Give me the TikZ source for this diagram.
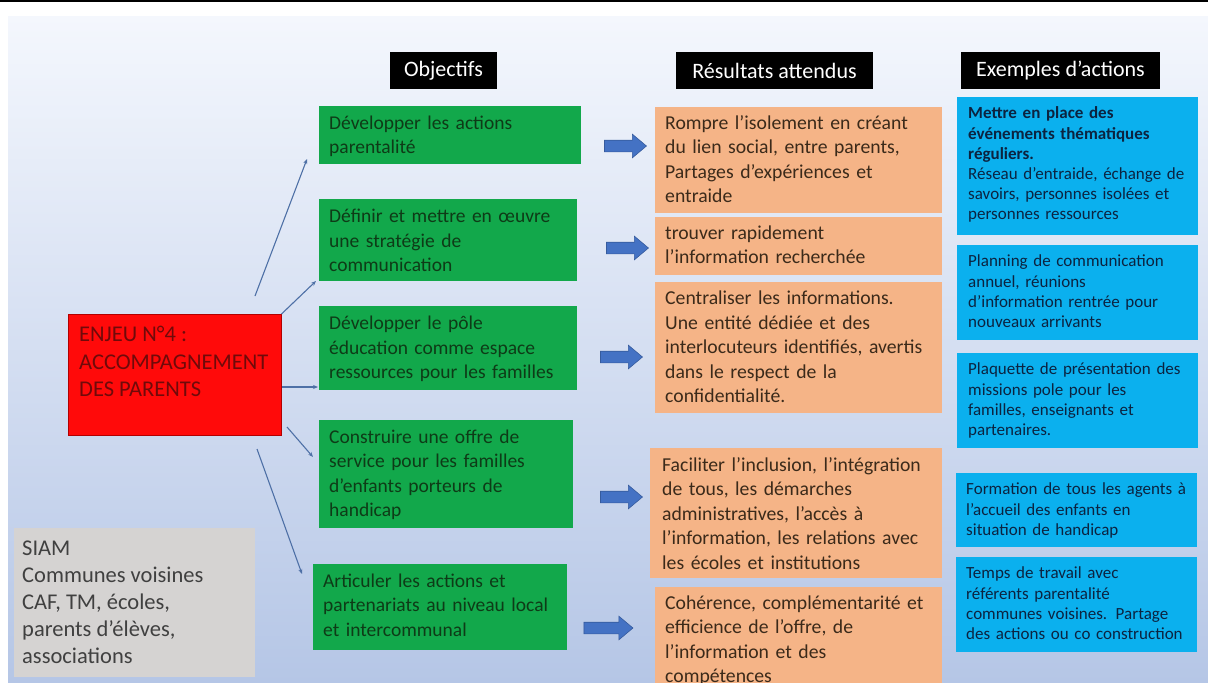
\documentclass[tikz,border=0pt]{standalone}
\usepackage{fontspec}
\setmainfont{Carlito}
\usetikzlibrary{shapes.arrows,arrows.meta,calc}
\definecolor{bgtop}{HTML}{F4F7FD}
\definecolor{bgbot}{HTML}{B5C6E6}
\definecolor{grn}{HTML}{12A84B}
\definecolor{grntxt}{HTML}{0E3B17}
\definecolor{org}{HTML}{F5B487}
\definecolor{orgtxt}{HTML}{3B2A1A}
\definecolor{blu}{HTML}{0BB0EE}
\definecolor{blutxt}{HTML}{0C2340}
\definecolor{redbox}{HTML}{FF0A0A}
\definecolor{redtxt}{HTML}{700A0A}
\definecolor{gry}{HTML}{D5D3D2}
\definecolor{grytxt}{HTML}{404040}
\definecolor{arr}{HTML}{4472C4}
\definecolor{lnk}{HTML}{4E70A6}
\tikzset{
  boxbase/.style={anchor=north west,inner sep=0pt,outer sep=0pt},
  gbox/.style={boxbase,fill=grn},
  obox/.style={boxbase,fill=org},
  bbox/.style={boxbase,fill=blu},
  txtbase/.style={anchor=north west,inner sep=0pt,align=left},
  gtxt/.style={txtbase,text=grntxt,font=\fontsize{19.5}{24.5}\selectfont},
  otxt/.style={txtbase,text=orgtxt,font=\fontsize{19.7}{24.5}\selectfont},
  btxt/.style={txtbase,text=blutxt,font=\fontsize{17}{20.2}\selectfont},
  head/.style={fill=black,text=white,inner sep=0pt,font=\fontsize{22}{24}\selectfont},
  barrow/.style={single arrow,fill=arr,draw=arr!80!black,line width=0.6pt,inner xsep=0pt,inner ysep=5.5pt,
    single arrow head extend=6pt,single arrow tip angle=80,anchor=center},
  link/.style={draw=lnk,line width=1.1pt,-{Stealth[length=5pt,width=4pt]}}
}
\begin{document}
\begin{tikzpicture}[x=1pt,y=-1pt]
\useasboundingbox (0,0) rectangle (1208,683);
\fill[white] (0,0) rectangle (1208,683);
\draw[line width=2pt] (0,1.2) -- (1208,1.2);
\shade[top color=bgtop,bottom color=bgbot] (8,16) rectangle (1208,683);

% headers
\node[head,minimum width=107,minimum height=37] (h1) at (443.5,70.5) {Objectifs};
\node[head,minimum width=197,minimum height=37] (h2) at (774.5,70.5) {Résultats attendus};
\node[head,minimum width=199,minimum height=37] (h3) at (1060.5,70.5) {Exemples d’actions};

% green boxes
\node[gbox,minimum width=262,minimum height=58] (g1) at (319,106) {};
\node[gtxt,text width=255] (g1t) at ($(g1.north west)+(10,6)$) {\strut Développer les actions\\parentalité};
\node[gbox,minimum width=258,minimum height=82] (g2) at (319,199) {};
\node[gtxt,text width=255] (g2t) at ($(g2.north west)+(10,6.5)$) {\strut Définir et mettre en œuvre\\une stratégie de\\communication};
\node[gbox,minimum width=258,minimum height=84] (g3) at (319,306) {};
\node[gtxt,text width=255] (g3t) at ($(g3.north west)+(10,6.5)$) {\strut Développer le pôle\\éducation comme espace\\ressources pour les familles};
\node[gbox,minimum width=254,minimum height=108] (g4) at (319,420) {};
\node[gtxt,text width=255] (g4t) at ($(g4.north west)+(10,6)$) {\strut Construire une offre de\\service pour les familles\\d’enfants porteurs de\\handicap};
\node[gbox,minimum width=254,minimum height=86] (g5) at (313,564) {};
\node[gtxt,text width=255] (g5t) at ($(g5.north west)+(10,6)$) {\strut Articuler les actions et\\partenariats au niveau local\\et intercommunal};

% orange boxes
\node[obox,minimum width=287,minimum height=106] (o1) at (655,107) {};
\node[otxt,text width=285] (o1t) at ($(o1.north west)+(10,5)$) {\strut Rompre l’isolement en créant\\du lien social, entre parents,\\Partages d’expériences et\\entraide};
\node[obox,minimum width=287,minimum height=58] (o2) at (655,217) {};
\node[otxt,text width=285] (o2t) at ($(o2.north west)+(10,5)$) {\strut trouver rapidement\\l’information recherchée};
\node[obox,minimum width=287,minimum height=131] (o3) at (655,282) {};
\node[otxt,text width=285] (o3t) at ($(o3.north west)+(10,5.5)$) {\strut Centraliser les informations.\\Une entité dédiée et des\\interlocuteurs identifiés, avertis\\dans le respect de la\\confidentialité.};
\node[obox,minimum width=292,minimum height=130] (o4) at (650,448) {};
\node[otxt,text width=285] (o4t) at ($(o4.north west)+(12,6)$) {\strut Faciliter l’inclusion, l’intégration\\de tous, les démarches\\administratives, l’accès à\\l’information, les relations avec\\les écoles et institutions};
\node[obox,minimum width=287,minimum height=100] (o5) at (655,587) {};
\node[otxt,text width=285] (o5t) at ($(o5.north west)+(10,5)$) {\strut Cohérence, complémentarité et\\efficience de l’offre, de\\l’information et des\\compétences};

% blue boxes
\node[bbox,minimum width=241,minimum height=138] (b1) at (957,97) {};
\node[btxt,text width=235] (b1t) at ($(b1.north west)+(11,7.5)$) {\strut\textbf{Mettre en place des\\événements thématiques\\réguliers.}\\Réseau d’entraide, échange de\\savoirs, personnes isolées et\\personnes ressources};
\node[bbox,minimum width=241,minimum height=95] (b2) at (957,245) {};
\node[btxt,text width=235] (b2t) at ($(b2.north west)+(11,7.5)$) {\strut Planning de communication\\annuel, réunions\\d’information rentrée pour\\nouveaux arrivants};
\node[bbox,minimum width=241,minimum height=95] (b3) at (957,353) {};
\node[btxt,text width=235] (b3t) at ($(b3.north west)+(11,7.5)$) {\strut Plaquette de présentation des\\missions pole pour les\\familles, enseignants et\\partenaires.};
\node[bbox,minimum width=241,minimum height=74] (b4) at (956,473) {};
\node[btxt,text width=235] (b4t) at ($(b4.north west)+(10,7.5)$) {\strut Formation de tous les agents à\\l’accueil des enfants en\\situation de handicap};
\node[bbox,minimum width=241,minimum height=95] (b5) at (956,557) {};
\node[btxt,text width=235] (b5t) at ($(b5.north west)+(10,7.5)$) {\strut Temps de travail avec\\référents parentalité\\communes voisines. Partage\\des actions ou co construction};

% red box
\node[boxbase,fill=redbox,draw=red!70!black,line width=0.6pt,minimum width=213,minimum height=121] (r) at (68.5,314) {};
\node[txtbase,text=redtxt,font=\fontsize{22.5}{27.5}\selectfont] (rt) at ($(r.north west)+(10.5,8.5)$) {\strut ENJEU N°4 :\\ACCOMPAGNEMENT\\DES PARENTS};

% grey box
\node[boxbase,fill=gry,minimum width=241,minimum height=149] (s) at (14,528) {};
\node[txtbase,text=grytxt,font=\fontsize{22.5}{27}\selectfont] (st) at ($(s.north west)+(8,8)$) {\strut SIAM\\Communes voisines\\CAF, TM, écoles,\\parents d’élèves,\\associations};

% block arrows
\node[barrow,minimum height=42] (a1) at (622,146) {};
\node[barrow,minimum height=42] (a2) at (624,248) {};
\node[barrow,minimum height=42] (a3) at (618,357) {};
\node[barrow,minimum height=42] (a4) at (618,497) {};
\node[barrow,minimum height=49] (a5) at (605,628) {};

% connectors
\coordinate (l1s) at (255,296);
\coordinate (l1e) at (307,159);
\coordinate (l2e) at (316,281);
\coordinate (l3s) at (282,387);
\coordinate (l3e) at (318,387);
\coordinate (l4s) at (287,427);
\coordinate (l4e) at (313,457);
\coordinate (l5s) at (257,449);
\coordinate (l5e) at (302,574);
\draw[link] (l1s) -- (l1e);
\draw[link] (r.north east) -- (l2e);
\draw[link] (l3s) -- (l3e);
\draw[link] (l4s) -- (l4e);
\draw[link] (l5s) -- (l5e);
\end{tikzpicture}
\end{document}
